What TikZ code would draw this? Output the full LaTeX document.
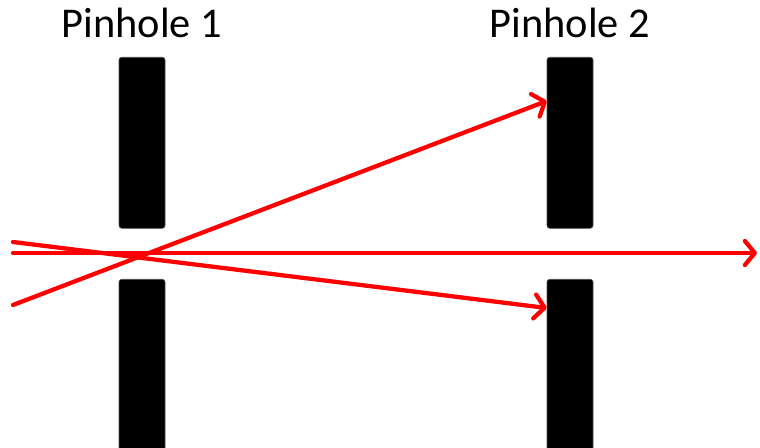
\documentclass[tikz,border=0pt]{standalone}
\usepackage{fontspec}
\setmainfont{Carlito}
\usetikzlibrary{arrows.meta}
\begin{document}
\begin{tikzpicture}[x=0.75pt,y=-0.75pt,
  bar/.style={fill=black,draw=black!70,line width=0.4pt,rounded corners=2pt,
    minimum width=34.5pt,inner sep=0pt,anchor=north},
  ray/.style={draw=red,line width=3.2pt,line cap=round,line join=round,
    -{Straight Barb[length=7.5pt,width=18pt,line cap=round,line join=round]}},
  title/.style={font=\fontsize{31.8}{36}\selectfont,anchor=base,inner sep=0pt}]
\useasboundingbox (0,0) rectangle (760,448);

% pinhole plates
\node[bar,minimum height=128.25pt] (p1top) at (142,57) {};
\node[bar,minimum height=132pt] (p1bot) at (142,279) {};
\node[bar,minimum height=128.25pt] (p2top) at (570,57) {};
\node[bar,minimum height=132pt] (p2bot) at (570,279) {};

% labels
\node[title] (l1) at (142,38) {Pinhole 1};
\node[title] (l2) at (570,38) {Pinhole 2};

% ray end points
\coordinate (a0) at (13,253);
\coordinate (a1) at (757,253);
\coordinate (b0) at (13,242);
\coordinate (b1) at (p2bot.west |- 0,308);
\coordinate (c0) at (13,305);
\coordinate (c1) at (p2top.west |- 0,101);

% rays
\draw[ray] (a0) -- (a1);
\draw[ray] (b0) -- (b1);
\draw[ray] (c0) -- (c1);
\end{tikzpicture}
\end{document}
